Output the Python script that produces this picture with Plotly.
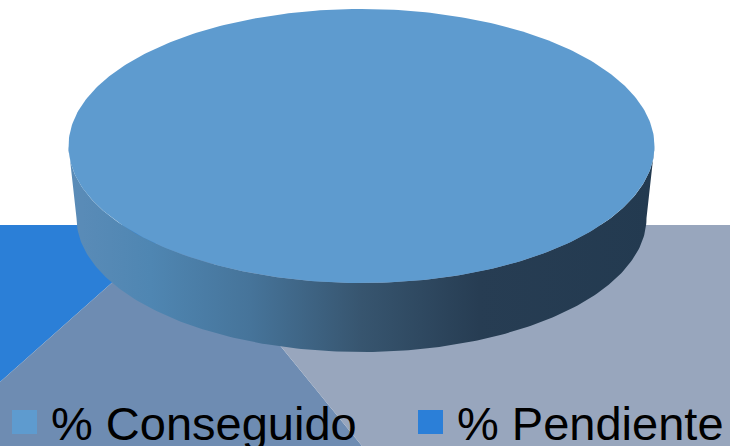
import numpy as np
import plotly.graph_objects as go

# ---- data ----
categories = ["% Conseguido", "% Pendiente"]
values = [100, 0]
slice_colors = ["#5e9bcf", "#2b7fd8"]

W, H = 730, 446

# pie geometry (pixel space)
cx, cy_top, a_top, b_top = 361.5, 146.0, 293.0, 137.0
cy_bot, a_bot, b_bot = 218.0, 285.0, 134.0

fig = go.Figure()

# background walls / floor
bg = [
    ("M 0 225 L 177 225 L 0 382 Z", "#2b7fd7"),
    ("M 177 225 L 182 225 L 362 446 L 0 446 L 0 382 Z", "#6e8cb2"),
    ("M 182 225 L 730 225 L 730 446 L 362 446 Z", "#98a6bd"),
]
shapes = [dict(type="path", path=p, fillcolor=c, line=dict(width=0), layer="below",
               xref="x", yref="y") for p, c in bg]

# side wall (front half)
t = np.linspace(0, np.pi, 200)
sx = np.concatenate([cx + a_top * np.cos(t), (cx + a_bot * np.cos(t))[::-1]])
sy = np.concatenate([cy_top + b_top * np.sin(t), (cy_bot + b_bot * np.sin(t))[::-1]])
fig.add_trace(go.Scatter(
    x=sx, y=sy, mode="lines", fill="toself", line=dict(width=0),
    fillgradient=dict(type="horizontal", colorscale=[
        [0.0, "#5b8cb8"], [0.14, "#4f86b2"], [0.31, "#46749a"],
        [0.5, "#37556f"], [0.7, "#273d53"], [1.0, "#233a50"]]),
    hoverinfo="skip", showlegend=False))

# top face slices (start at 12 o'clock, clockwise)
total = float(sum(values))
start = 0.0
for cat, v, col in zip(categories, values, slice_colors):
    frac = v / total
    if frac > 0:
        ang = np.linspace(start, start + frac * 2 * np.pi, 400)
        px = cx + a_top * np.sin(ang)
        py = cy_top - b_top * np.cos(ang)
        if frac < 1:
            px = np.concatenate([[cx], px, [cx]])
            py = np.concatenate([[cy_top], py, [cy_top]])
        fig.add_trace(go.Scatter(x=px, y=py, mode="lines", fill="toself",
                                 fillcolor=col, line=dict(width=0, color=col),
                                 name=cat, hoverinfo="name", showlegend=False))
    start += frac * 2 * np.pi

# legend (manual, large)
leg_x = [12, 418]
annotations = []
for cat, col, lx in zip(categories, slice_colors, leg_x):
    shapes.append(dict(type="rect", x0=lx, x1=lx + 25, y0=410, y1=434,
                       fillcolor=col, line=dict(width=0), xref="x", yref="y"))
    annotations.append(dict(x=lx + 37, y=423, text=cat, showarrow=False,
                            xanchor="left", yanchor="middle", xref="x", yref="y",
                            font=dict(family="Liberation Sans, Arial", size=47, color="#000000")))

fig.update_layout(
    width=W, height=H, margin=dict(l=0, r=0, t=0, b=0),
    paper_bgcolor="white", plot_bgcolor="white",
    xaxis=dict(range=[0, W], visible=False, fixedrange=True),
    yaxis=dict(range=[H, 0], visible=False, fixedrange=True),
    shapes=shapes, annotations=annotations, showlegend=False,
)
fig.write_html("out.html", config={"displayModeBar": False},
               post_script="document.body.style.margin='0';document.body.style.overflow='hidden';")
